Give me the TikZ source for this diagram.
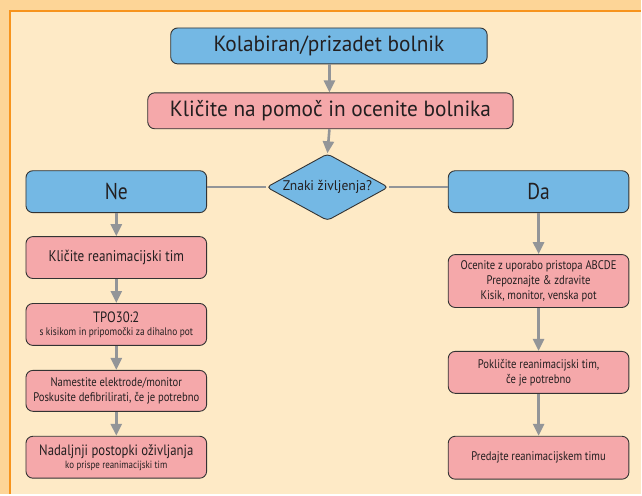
\documentclass[tikz,border=0pt]{standalone}
\usepackage{fontspec}
\setmainfont{PT Sans}[FakeStretch=0.85]
\newfontfamily\widefont{PT Sans}[FakeStretch=0.97]
\usetikzlibrary{arrows.meta,shapes.geometric}
\definecolor{bandc}{HTML}{FDD597}
\definecolor{creamc}{HTML}{FEEAC6}
\definecolor{framec}{HTML}{F7941D}
\definecolor{bluec}{HTML}{74B8E4}
\definecolor{pinkc}{HTML}{F5A8AA}
\definecolor{arrowc}{HTML}{939598}
\definecolor{edgec}{HTML}{333333}
\definecolor{textc}{HTML}{231F20}
\newcommand{\fs}[1]{\fontsize{#1}{#1}\selectfont}
\begin{document}
\begin{tikzpicture}[x=1pt,y=-1pt,
  box/.style={draw=edgec,line width=0.9pt,rounded corners=7pt,inner sep=0pt,align=center,text=textc},
  bluebox/.style={box,fill=bluec},
  pinkbox/.style={box,fill=pinkc},
  colbox/.style={minimum width=181pt},
  flow/.style={draw=arrowc,line width=2.6pt,-{Triangle[width=11pt,length=12pt]}},
  link/.style={draw=arrowc,line width=2.6pt}]
% background and frame
\fill[bandc] (0,0) rectangle (642,495);
\fill[creamc] (10,11) rectangle (642,495);
\draw[framec,line width=2.2pt] (10,495) -- (10,11) -- (642,11);
\useasboundingbox (0,0) rectangle (642,495);
% top
\node[bluebox,minimum width=317pt,minimum height=36pt,font=\widefont\fs{22}] (start) at (329.5,46) {Kolabiran/prizadet bolnik};
\node[pinkbox,minimum width=366pt,minimum height=36pt,font=\widefont\fs{22}] (call) at (331,111) {Kličite na pomoč in ocenite bolnika};
\node[draw=edgec,line width=0.9pt,fill=bluec,shape=diamond,aspect=1.82,rounded corners=4pt,minimum width=122pt,minimum height=67pt,inner sep=0pt,text=textc,font=\widefont\fs{14}] (signs) at (328,187.5) {Znaki življenja?};
% left column
\node[bluebox,colbox,minimum height=42pt,font=\fs{23}] (ne) at (116.5,192) {Ne};
\node[pinkbox,colbox,minimum height=42pt,font=\fs{15.5}] (resteam) at (116.5,258) {Kličite reanimacijski tim};
\node[pinkbox,colbox,minimum height=42pt] (cpr) at (116.5,325) {{\fs{15}TPO30:2}\\[1pt]{\fs{11}s kisikom in pripomočki za dihalno pot}};
\node[pinkbox,colbox,minimum height=41pt,font=\fs{12.5}] (defib) at (116.5,391.5) {Namestite elektrode/monitor\\[2pt]Poskusite defibrilirati, če je potrebno};
\node[pinkbox,colbox,minimum height=42pt] (als) at (116.5,458) {{\fs{15}Nadaljnji postopki oživljanja}\\[1pt]{\fs{10.5}ko prispe reanimacijski tim}};
% right column
\node[bluebox,colbox,minimum height=42pt,font=\fs{23}] (da) at (539.5,192) {Da};
\node[pinkbox,colbox,minimum height=53pt,font=\fs{12.5}] (abcde) at (539.5,281.5) {Ocenite z uporabo pristopa ABCDE\\[2.5pt]Prepoznajte \& zdravite\\[2.5pt]Kisik, monitor, venska pot};
\node[pinkbox,colbox,minimum height=42pt,font=\fs{12.5}] (callteam) at (539.5,373) {Pokličite reanimacijski tim,\\[2.5pt]če je potrebno};
\node[pinkbox,colbox,minimum height=43pt,font=\fs{12.5}] (handover) at (539.5,458.5) {Predajte reanimacijskem timu};
% connectors
\draw[flow] (start.south -| 330,0) -- (call.north -| 330,0);
\draw[flow] (call.south -| 330,0) -- (signs.north);
\draw[link] (signs.west) -- (ne.east |- signs.west);
\draw[link] (signs.east) -- (da.west |- signs.east);
\draw[flow] (ne) -- (resteam);
\draw[flow] (resteam) -- (cpr);
\draw[flow] (cpr) -- (defib);
\draw[flow] (defib) -- (als);
\draw[flow] (da) -- (abcde);
\draw[flow] (abcde) -- (callteam);
\draw[flow] (callteam) -- (handover);
\end{tikzpicture}
\end{document}
